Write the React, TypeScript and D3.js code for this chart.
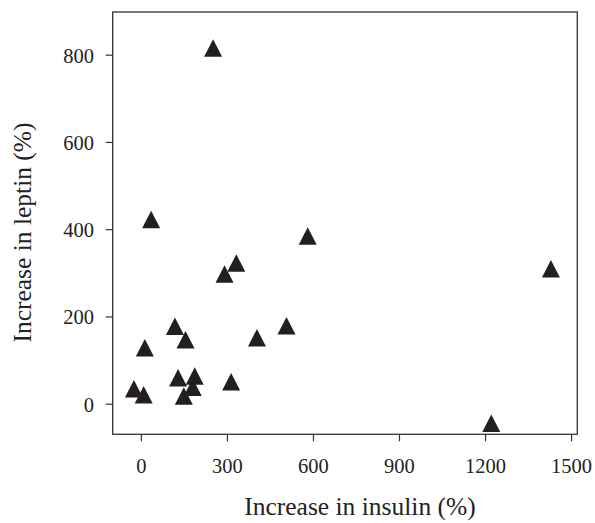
import React from "react";
import { scaleLinear } from "d3";

// percent increase in insulin vs leptin, one triangle per subject
const insulin = [250, 34, 580, 331, 290, 1428, 117, 506, 403, 154, 12, 186, 128, 313, 179, -26, 148, 8, 1220];
const leptin = [816, 423, 385, 323, 298, 310, 178, 179, 152, 147, 129, 64, 60, 51, 38, 35, 18, 21, -44];

const xTicks = [0, 300, 600, 900, 1200, 1500];
const yTicks = [0, 200, 400, 600, 800];

const width = 595;
const height = 523;
const font = "'Liberation Serif', 'Times New Roman', serif";
const axisColor = "#333";

export default function App() {
  const left = 112.7;
  const right = 577.3;
  const top = 12;
  const bottom = 434.3;

  const xScale = scaleLinear().domain([-100, 1520]).range([left, right]);
  const yScale = scaleLinear().domain([-69, 899]).range([bottom, top]);

  const tri = "M0,-9 L9,8.5 L-9,8.5 Z";

  const points = insulin.map((x, i) => (
    <path
      key={i}
      d={tri}
      transform={`translate(${xScale(x)},${yScale(leptin[i])})`}
      fill="#231f20"
    />
  ));

  const xAxis = xTicks.map((t) => (
    <g key={t}>
      <line x1={xScale(t)} x2={xScale(t)} y1={bottom} y2={bottom + 7} stroke={axisColor} strokeWidth={1.2} />
      <text x={xScale(t)} y={473} textAnchor="middle" fontSize={20.5} fill="#222">
        {t}
      </text>
    </g>
  ));

  const yAxis = yTicks.map((t) => (
    <g key={t}>
      <line x1={left - 7} x2={left} y1={yScale(t)} y2={yScale(t)} stroke={axisColor} strokeWidth={1.2} />
      <text x={94} y={yScale(t) + 7.5} textAnchor="end" fontSize={20.5} fill="#222">
        {t}
      </text>
    </g>
  ));

  return (
    <svg
      width={width}
      height={height}
      style={{ position: "absolute", left: 0, top: 0, background: "#fff" }}
      fontFamily={font}
    >
      <rect
        x={left}
        y={top}
        width={right - left}
        height={bottom - top}
        fill="none"
        stroke={axisColor}
        strokeWidth={1.3}
      />
      {xAxis}
      {yAxis}
      {points}
      <text x={360} y={515} textAnchor="middle" fontSize={25.5} fill="#222">
        Increase in insulin (%)
      </text>
      <text
        transform={`translate(31,232.5) rotate(-90)`}
        textAnchor="middle"
        fontSize={25.5}
        fill="#222"
      >
        Increase in leptin (%)
      </text>
    </svg>
  );
}
